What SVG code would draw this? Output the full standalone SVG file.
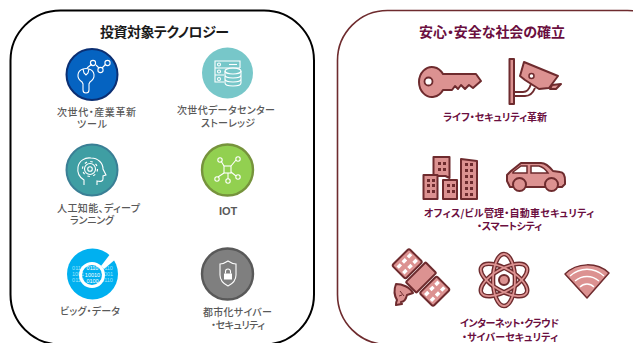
<svg xmlns="http://www.w3.org/2000/svg" width="633" height="343" viewBox="0 0 633 343">
<style>
text{font-family:"Noto Sans CJK JP","Liberation Sans",sans-serif;font-feature-settings:"palt"}
.g{font-size:10px;font-weight:500;fill:#595959}
.m{font-size:10px;font-weight:700;fill:#6b0f3f}
.t{font-size:14px;font-weight:700}
.w{fill:none;stroke:#fff;stroke-width:1.1}
.i{fill:#dc9291;stroke:#6e2b2e;stroke-width:2;stroke-linejoin:round}
.l{fill:none;stroke:#6e2b2e;stroke-width:2}
.h{fill:#6e2b2e}
.b{font-size:5.500px;font-family:"Liberation Sans",sans-serif;fill:#fff;text-anchor:middle}
.p{font-size:5.500px;font-family:"Liberation Sans",sans-serif;fill:#9fe3fa;text-anchor:middle}
</style>
<rect width="633" height="343" fill="#fff"/>
<g id="panel-left"><rect x="10.5" y="10.5" width="303.500" height="334" rx="50" fill="#fff" stroke="#000" stroke-width="2"/><text class="t" x="100" y="37" textLength="129" lengthAdjust="spacing" fill="#1a1a1a">投資対象テクノロジー</text></g>
<g id="panel-right"><rect x="337.500" y="10.500" width="340" height="334" rx="50" fill="#fff" stroke="#6e2b2e" stroke-width="1.600"/><text class="t" x="419" y="37" textLength="146" lengthAdjust="spacing" fill="#6b0f3f">安心・安全な社会の確立</text></g>

<g id="next-gen-tools"><circle cx="92" cy="74.500" r="25.500" fill="#0563c1" stroke="#0b2f73" stroke-width="2"/>
<path class="w" d="M83 69a9 9 0 0 1 6 0l-1 4 -2 2 -2-2zM89 69c6 2 7 9 1 13l-1 2v6a3 3 0 0 1-6 0v-6l-1-2c-6-4-5-11 1-13"/>
<path class="w" d="M87 68l5-4M96 65l3 3M102 68l4-4"/><circle class="w" cx="93" cy="63" r="2.600"/><circle class="w" cx="100.500" cy="70" r="2.600"/><circle class="w" cx="107.500" cy="63" r="2.600"/>
<text class="g"><tspan x="57" y="116" textLength="79">次世代・産業革新</tspan><tspan x="77" y="128" textLength="30">ツール</tspan></text></g>

<g id="datacenter-storage"><circle cx="227.500" cy="73" r="25.500" fill="#77c7c9"/>
<path class="w" d="M240 68v-7h-25v7h25M215 68v7h9M215 75v7h9"/><circle class="w" cx="219" cy="64.500" r="1.500"/><circle class="w" cx="219" cy="71.500" r="1.500"/><circle class="w" cx="219" cy="79" r="1.500"/><path class="w" d="M229 64.500h8"/>
<ellipse class="w" cx="233" cy="71" rx="8" ry="3"/><path class="w" d="M225 71v12c0 4 16 4 16 0v-12M225 75c0 4 16 4 16 0M225 79c0 4 16 4 16 0"/>
<text class="g"><tspan x="177" y="113.500" textLength="98">次世代データセンター</tspan><tspan x="201" y="127" textLength="54">ストーレッジ</tspan></text></g>

<g id="ai-deep-learning"><circle cx="92" cy="170" r="25.500" fill="#3f9ea3" stroke="#3a7f95" stroke-width="2"/>
<path class="w" d="M84 185v-5c-5-3-7-7-6-13 1-6 7-10 13-9 7 0 12 5 12 11l3 6-3 1v3c0 2-2 3-6 2v4"/>
<circle class="w" cx="90" cy="169" r="5.500"/><circle class="w" cx="90" cy="169" r="2.300"/><circle cx="90" cy="169" r="7.500" fill="none" stroke="#fff" stroke-width="1.200" stroke-dasharray="2.500 3.400"/>
<text class="g"><tspan x="57" y="212" textLength="83">人工知能、ディープ</tspan><tspan x="70" y="224" textLength="44">ランニング</tspan></text></g>

<g id="iot"><circle cx="227.500" cy="170" r="25.500" fill="#92d050" stroke="#76933c" stroke-width="2.400"/>
<rect class="w" x="224" y="166" width="7" height="7"/><path class="w" d="M224 166l-3-5M231 166l5-6M224 173l-6 4M228 173v6M231 172l5 4"/><circle class="w" cx="220" cy="160" r="2.200"/><circle class="w" cx="238" cy="159" r="2.200"/><circle class="w" cx="217" cy="179" r="2.200"/><circle class="w" cx="228" cy="181" r="2.200"/><circle class="w" cx="238" cy="177" r="2.200"/>
<text x="219" y="215" style="font-size:11px;font-weight:700;fill:#595959;font-family:'Liberation Sans',sans-serif">IOT</text></g>

<g id="big-data"><circle cx="92.500" cy="274" r="25.500" fill="#00b0f0"/>
<text class="p" x="78" y="270">0110</text><text class="p" x="78" y="276">1001</text><text class="p" x="78" y="282">0110</text>
<text class="p" x="107" y="270">0110</text><text class="p" x="107" y="276">1001</text><text class="p" x="107" y="282">0110</text>
<text class="b" x="92.500" y="270">0110</text><text class="b" x="92.500" y="276.500">10010</text><text class="b" x="92.500" y="283">0100</text>
<circle cx="92" cy="275" r="11.500" fill="none" stroke="#fff" stroke-width="3"/><path d="M101 266l10-13 6 5-13 11z" fill="#fff"/>
<text class="g"><tspan x="60" y="315" textLength="60">ビッグ・データ</tspan></text></g>

<g id="urban-cyber"><circle cx="227.500" cy="274" r="25.500" fill="#7f7f7f" stroke="#595959" stroke-width="2.400"/>
<path class="w" d="M228 261c3 2 6 3 8 3v11c0 5-4 9-8 11-4-2-8-6-8-11v-11c2 0 5-1 8-3z"/><rect x="224" y="273.500" width="8" height="6" fill="#fff"/><path class="w" d="M225.500 273.500v-2a2.500 2.500 0 0 1 5 0v2"/>
<text class="g"><tspan x="203" y="316" textLength="69">都市化サイバー</tspan><tspan x="211" y="329" textLength="54">・セキュリティ</tspan></text></g>

<g id="life-security">
<path class="i" d="M443 74A13 15 0 1 0 443 90L452 90 455 86 458 89 461 85 465 89 469 85 473 88 481 81 476 74Z"/><circle cx="428.500" cy="81.500" r="4" fill="#fff" stroke="#6e2b2e" stroke-width="1.800"/>
<rect class="i" x="509.500" y="59" width="4.500" height="45"/>
<path class="i" d="M524 62l34 14-9 12-10 1-14-9-5-4z"/><circle cx="531.500" cy="76" r="2.500" fill="#fff" stroke="#6e2b2e" stroke-width="1.500"/><path class="i" d="M552 85l9-1-5 5h-6z" stroke-width="1.500"/>
<path class="l" d="M514 92h9c4 0 6-2 8-8"/><path class="l" d="M514 96h11c5 0 8-3 10-8"/>
<text class="m"><tspan x="443" y="120.500" textLength="104">ライフ・セキュリティ革新</tspan></text></g>

<g id="office-city">
<path class="i" d="M433.500 157h16v21l-4-2h-12z"/><path class="i" d="M423.500 175h14v24h-14z"/><path class="i" d="M443 180h14v19h-14z"/><path class="i" d="M461 159l16 2v38h-16z"/>
<path class="h" d="M438 162h3v3h-3zM443 162h3v3h-3zM438 168h3v3h-3zM443 168h3v3h-3zM427 179h3v3h-3zM432 179h3v3h-3zM427 184h3v3h-3zM432 184h3v3h-3zM427 190h3v3h-3zM432 190h3v3h-3zM447 184h3v3h-3zM452 184h3v3h-3zM447 190h3v3h-3zM452 190h3v3h-3zM465 163h3v3h-3zM470 163h3v3h-3zM465 169h3v3h-3zM470 169h3v3h-3zM465 175h3v3h-3zM470 175h3v3h-3zM465 181h3v3h-3zM470 181h3v3h-3zM465 187h3v3h-3zM470 187h3v3h-3zM465 193h3v3h-3zM470 193h3v3h-3z"/>
<path class="i" d="M507 181v-6l4-4 10-8h20c4 0 8 3 12 8l7 1c3 0 5 3 5 9v3l-3 3h-52z"/>
<path d="M513 172l8-6h6v7h-14zM531 166h8c4 1 7 4 9 7h-17z" fill="#fff" stroke="#6e2b2e" stroke-width="1.500"/>
<circle class="i" cx="519.500" cy="184.500" r="6.500"/><circle class="i" cx="551.500" cy="184.500" r="6.500"/>
<text class="m"><tspan x="424" y="216.500" textLength="170">オフィス/ビル管理・自動車セキュリティ</tspan><tspan x="477" y="229.500" textLength="65">・スマートシティ</tspan></text></g>

<g id="internet-cloud-cyber">
<g transform="translate(421 277.500) rotate(-45)"><rect class="i" x="-14" y="-7.500" width="28" height="15" rx="1" stroke-width="1.500"/><rect class="i" x="-12" y="-29" width="24" height="19" rx="2" stroke-width="1.500"/><rect class="i" x="-12" y="10" width="24" height="19" rx="2" stroke-width="1.500"/>
<path d="M-9.500 -23.500h19M-9.500 -15.500h19M-9.500 15.500h19M-9.500 23.500h19" stroke="#fff" stroke-width="3.400" stroke-dasharray="4.500 2.750" fill="none"/></g>
<path class="i" d="M396 284c6 0 14 3 17 9l-6 2c-1 4-3 7-6 7l1 2-6 1c0-2 0-3 1-5-3-5-3-11-1-16z" stroke-width="1.500"/>
<path d="M400 291l4 5M399 296l3-1" stroke="#6e2b2e" fill="none"/>
<g fill="none" stroke="#6e2b2e" stroke-width="4.500"><ellipse cx="504" cy="280" rx="11" ry="26"/><ellipse cx="504" cy="280" rx="11" ry="26" transform="rotate(60 504 280)"/><ellipse cx="504" cy="280" rx="11" ry="26" transform="rotate(-60 504 280)"/></g>
<g fill="none" stroke="#dc9291" stroke-width="1.800"><ellipse cx="504" cy="280" rx="11" ry="26"/><ellipse cx="504" cy="280" rx="11" ry="26" transform="rotate(60 504 280)"/><ellipse cx="504" cy="280" rx="11" ry="26" transform="rotate(-60 504 280)"/></g>
<circle class="i" cx="504" cy="280" r="5"/>
<path d="M565 274c12-12 32-12 44-1l-22 25z" fill="#dc9291" stroke="#6e2b2e" stroke-width="1.500" stroke-linejoin="round"/>
<path d="M570 276c10-9 24-9 34 0M575 281c7-6 17-6 24 0M580 287c4-4 10-4 14 0" fill="none" stroke="#fff" stroke-width="1.400"/>
<text class="m"><tspan x="460" y="327" textLength="99">インターネット・クラウド</tspan><tspan x="462" y="340.500" textLength="96">・サイバーセキュリティ</tspan></text></g>
</svg>
